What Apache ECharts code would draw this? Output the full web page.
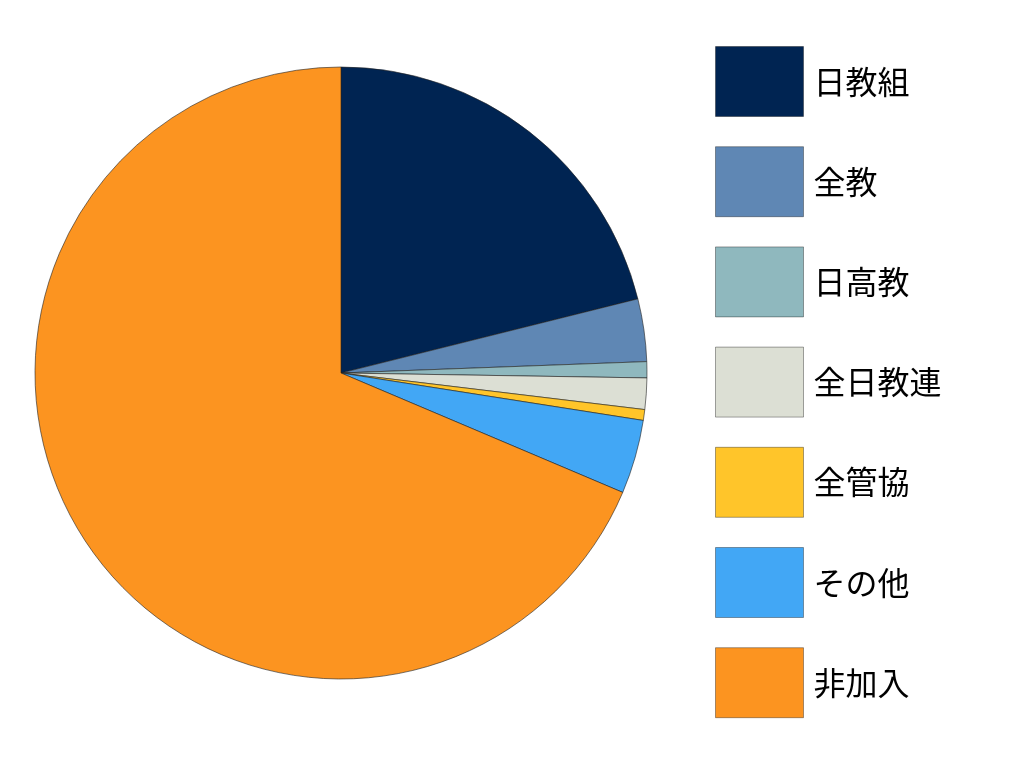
<!DOCTYPE html>
<html>
	<head>
		<meta charset="utf-8" />
		<title></title>
		<script src="https://cdn.jsdelivr.net/npm/echarts@6/dist/echarts.min.js"></script>
		<style>
			*{
				padding: 0;
				margin: 0;
			}
			.main{
				width: 1024px;
				height: 768px;
			}
		</style>
	</head>
	<body>
		<div id="main" class="main"></div>
		<script type="text/javascript">
		// 区分
		var names = ["日教組", "全教", "日高教", "全日教連", "全管協", "その他", "非加入"];
		// 割合 (%)
		var values = [21.1, 3.3, 0.85, 1.65, 0.57, 3.9, 68.6];
		var colors = ["#002452", "#5f87b4", "#8fb8be", "#dcdfd4", "#ffc52a", "#42a7f5", "#fc9420"];

		var pieData = [];
		for (var i = 0; i < names.length; i++) {
			pieData.push({ name: names[i], value: values[i] });
		}

		var myChart = echarts.init(document.getElementById('main'));

		var option = {
			backgroundColor: "#fff",
			animation: false,
			color: colors,
			legend: {
				orient: "vertical",
				left: 715,
				top: 46,
				padding: 0,
				itemWidth: 88,
				itemHeight: 70,
				itemGap: 29.2,
				icon: "rect",
				selectedMode: false,
				itemStyle: {
					borderWidth: 1,
					borderColor: "rgba(0,0,0,0.35)"
				},
				textStyle: {
					fontSize: 32,
					color: "#000",
					fontFamily: "Noto Sans CJK JP",
					padding: [0, 0, 0, 5]
				},
				data: names
			},
			series: [{
				type: "pie",
				center: [341, 373],
				radius: 306,
				startAngle: 90,
				clockwise: true,
				label: { show: false },
				labelLine: { show: false },
				emphasis: { disabled: true },
				itemStyle: {
					borderColor: "#222",
					borderWidth: 0.6
				},
				data: pieData
			}]
		};

		myChart.setOption(option);
		</script>
	</body>
</html>
